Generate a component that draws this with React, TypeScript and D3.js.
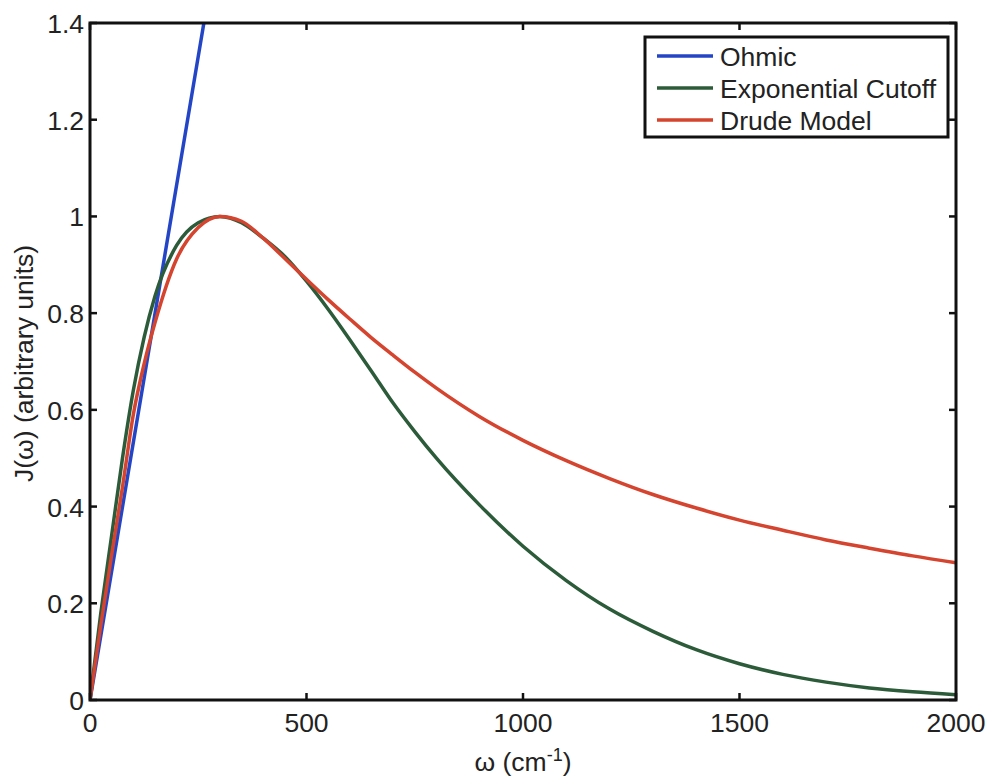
import React from "react";
import * as d3 from "d3";

const omegaOhmic = [0, 263];
const jOhmic = [0, 1.4];

const omegaGrid = [0, 25, 50, 75, 100, 125, 150, 200, 250, 300, 350, 400, 450, 500, 550, 600, 650, 700, 750, 800, 900, 1000, 1100, 1200, 1300, 1400, 1500, 1600, 1700, 1800, 1900, 2000];
const jExponential = [0, 0.18, 0.34, 0.5, 0.64, 0.75, 0.835, 0.94, 0.987, 1.0, 0.987, 0.955, 0.917, 0.866, 0.808, 0.745, 0.68, 0.614, 0.555, 0.5, 0.403, 0.318, 0.247, 0.188, 0.142, 0.104, 0.075, 0.053, 0.037, 0.025, 0.017, 0.011];
const jDrude = [0, 0.155, 0.3, 0.44, 0.59, 0.695, 0.78, 0.912, 0.977, 1.0, 0.99, 0.955, 0.913, 0.87, 0.828, 0.788, 0.749, 0.713, 0.678, 0.645, 0.586, 0.537, 0.495, 0.458, 0.425, 0.397, 0.372, 0.351, 0.331, 0.314, 0.298, 0.284];

const xTicks = [0, 500, 1000, 1500, 2000];
const xTickLabels = ["0", "500", "1000", "1500", "2000"];
const yTicks = [0, 0.2, 0.4, 0.6, 0.8, 1, 1.2, 1.4];
const yTickLabels = ["0", "0.2", "0.4", "0.6", "0.8", "1", "1.2", "1.4"];

const seriesNames = ["Ohmic", "Exponential Cutoff", "Drude Model"];
const seriesColors = ["#2446c6", "#2c5b3a", "#d4442e"];

const W = 987;
const H = 778;
const L = 90, R = 956, T = 23, B = 700;
const FONT = "'Liberation Sans', Arial, Helvetica, sans-serif";
const FS = 26.5;

export default function App() {
  const x = d3.scaleLinear().domain([0, 2000]).range([L, R]);
  const y = d3.scaleLinear().domain([0, 1.4]).range([B, T]);
  const line = d3
    .line<[number, number]>()
    .x((d) => x(d[0]))
    .y((d) => y(d[1]))
    .curve(d3.curveMonotoneX);
  const straight = d3
    .line<[number, number]>()
    .x((d) => x(d[0]))
    .y((d) => y(d[1]));

  const ohmic: [number, number][] = omegaOhmic.map((w, i) => [w, jOhmic[i]]);
  const expo: [number, number][] = omegaGrid.map((w, i) => [w, jExponential[i]]);
  const drude: [number, number][] = omegaGrid.map((w, i) => [w, jDrude[i]]);
  const paths = [straight(ohmic), line(expo), line(drude)];

  const tickLen = 7;
  const legX = 645, legY = 37, legW = 303, legH = 100;
  const rowY = [56, 88, 120];

  return (
    <div style={{ position: "absolute", left: 0, top: 0, width: W, height: H, background: "#fff" }}>
      <svg width={W} height={H} style={{ display: "block", fontFamily: FONT }}>
        <defs>
          <clipPath id="plotClip">
            <rect x={L} y={T} width={R - L} height={B - T} />
          </clipPath>
        </defs>
        <rect x={0} y={0} width={W} height={H} fill="#fff" />

        <g clipPath="url(#plotClip)">
          {paths.map((p, i) => (
            <path key={i} d={p || ""} fill="none" stroke={seriesColors[i]} strokeWidth={3.5} strokeLinejoin="round" strokeLinecap="round" />
          ))}
        </g>

        {xTicks.map((t, i) => (
          <g key={"xt" + i}>
            <line x1={x(t)} x2={x(t)} y1={B} y2={B - tickLen} stroke="#111" strokeWidth={2.5} />
            <line x1={x(t)} x2={x(t)} y1={T} y2={T + tickLen} stroke="#111" strokeWidth={2.5} />
            <text x={x(t)} y={732} textAnchor="middle" fontSize={FS} fill="#222">
              {xTickLabels[i]}
            </text>
          </g>
        ))}
        {yTicks.map((t, i) => (
          <g key={"yt" + i}>
            <line x1={L} x2={L + tickLen} y1={y(t)} y2={y(t)} stroke="#111" strokeWidth={2.5} />
            <line x1={R} x2={R - tickLen} y1={y(t)} y2={y(t)} stroke="#111" strokeWidth={2.5} />
            <text x={84} y={y(t) + 10} textAnchor="end" fontSize={FS} fill="#222">
              {yTickLabels[i]}
            </text>
          </g>
        ))}

        <rect x={L} y={T} width={R - L} height={B - T} fill="none" stroke="#111" strokeWidth={3} />

        <text x={(L + R) / 2} y={771} textAnchor="middle" fontSize={FS} fill="#222">
          ω (cm
          <tspan dy={-10} fontSize={18}>-1</tspan>
          <tspan dy={10}>)</tspan>
        </text>
        <text
          transform={`translate(33, ${(T + B) / 2 + 2}) rotate(-90)`}
          textAnchor="middle"
          fontSize={FS}
          fill="#222"
        >
          J(ω) (arbitrary units)
        </text>

        <rect x={legX} y={legY} width={legW} height={legH} fill="#fff" stroke="#111" strokeWidth={3} />
        {seriesNames.map((n, i) => (
          <g key={"lg" + i}>
            <line x1={657} x2={713} y1={rowY[i]} y2={rowY[i]} stroke={seriesColors[i]} strokeWidth={3.5} />
            <text x={720} y={rowY[i] + 9.5} fontSize={FS} fill="#222">
              {n}
            </text>
          </g>
        ))}
      </svg>
    </div>
  );
}
